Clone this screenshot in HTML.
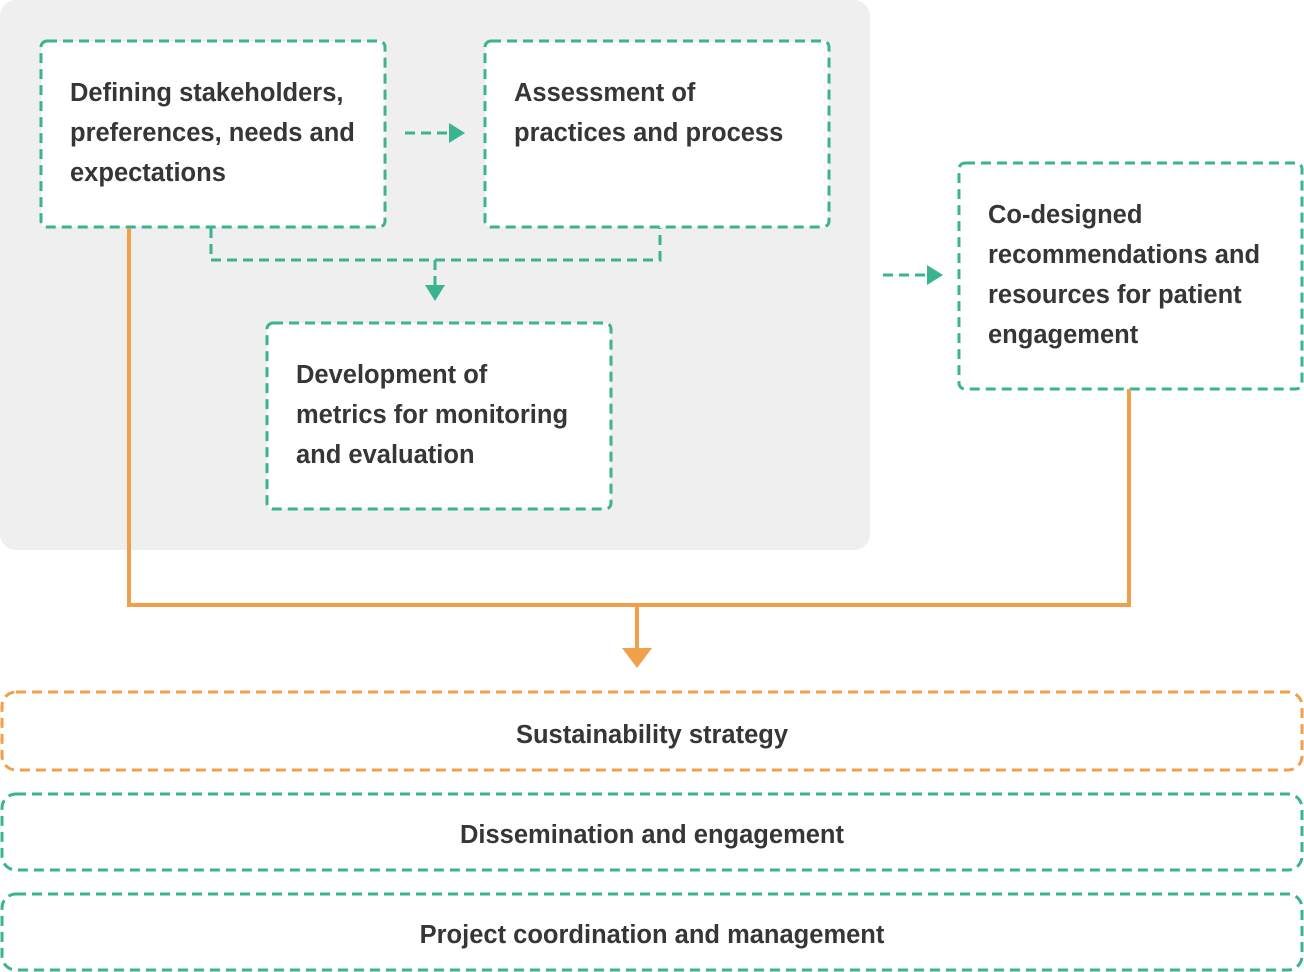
<!DOCTYPE html>
<html><head><style>body{margin:0;background:#fff}svg{display:block}text{font-family:"Liberation Sans",sans-serif;font-weight:bold;fill:#363636;font-size:25.5px}</style></head>
<body>
<svg width="1304" height="972" viewBox="0 0 1304 972">
<rect x="0" y="0" width="870" height="550" rx="16" fill="#efefef"/>
<g fill="#fff" stroke="#3bb391" stroke-width="3" stroke-dasharray="10,6">
<rect x="41" y="41" width="344" height="186" rx="6"/>
<rect x="485" y="41" width="344" height="186" rx="6"/>
<rect x="267" y="323" width="344" height="186" rx="6"/>
<rect x="959" y="163" width="343" height="226" rx="6"/>
<rect x="2" y="794" width="1300" height="76" rx="14"/>
<rect x="2" y="894" width="1300" height="76" rx="14"/>
</g>
<rect x="2" y="692" width="1300" height="78" rx="14" fill="#fff" stroke="#f0a04b" stroke-width="3" stroke-dasharray="10,6"/>
<g stroke="#3bb391" stroke-width="3" stroke-dasharray="10,6" fill="none">
<path d="M405 133H452"/>
<path d="M883 275H930"/>
<path d="M211 228V260H660V228"/>
<path d="M435 260V287"/>
</g>
<g fill="#3bb391">
<path d="M449 123L465 133L449 143Z"/>
<path d="M927 265L943 275L927 285Z"/>
<path d="M425 285L445 285L435 301Z"/>
</g>
<path d="M129 228V605H1129V389M637 605V650" stroke="#f0a04b" stroke-width="4" fill="none"/>
<path d="M622 648H652L637 668Z" fill="#f0a04b"/>
<text x="70" y="101">Defining stakeholders,</text>
<text x="70" y="141">preferences, needs and</text>
<text x="70" y="181">expectations</text>
<text x="514" y="101">Assessment of</text>
<text x="514" y="141">practices and process</text>
<text x="296" y="383">Development of</text>
<text x="296" y="423">metrics for monitoring</text>
<text x="296" y="463">and evaluation</text>
<text x="988" y="223">Co-designed</text>
<text x="988" y="263">recommendations and</text>
<text x="988" y="303">resources for patient</text>
<text x="988" y="343">engagement</text>
<text x="652" y="743" text-anchor="middle">Sustainability strategy</text>
<text x="652" y="843" text-anchor="middle">Dissemination and engagement</text>
<text x="652" y="943" text-anchor="middle">Project coordination and management</text>
</svg>
</body></html>
